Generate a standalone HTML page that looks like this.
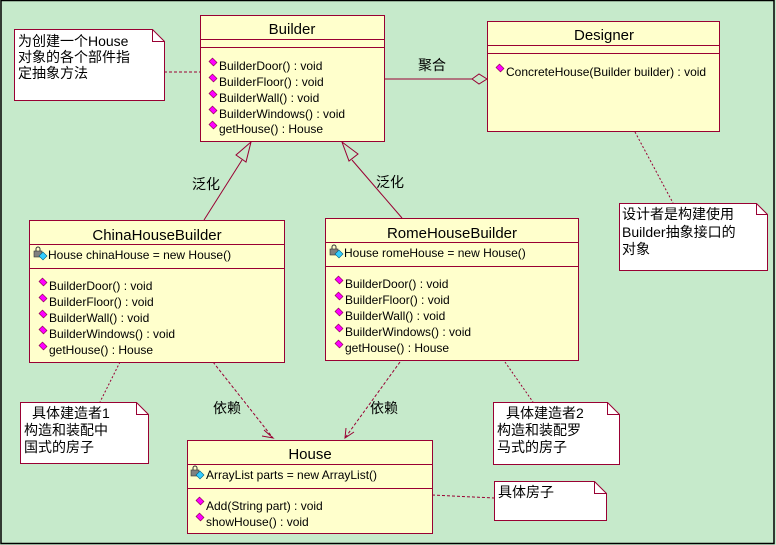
<!DOCTYPE html>
<html><head><meta charset="utf-8"><style>
html,body{margin:0;padding:0;background:#c6eacb;}
svg{display:block}
text{font-family:"Liberation Sans","Noto Sans CJK SC",sans-serif;fill:#000;font-weight:normal}
.t{font-size:15px}
.m{font-size:12px}
.c{font-size:14px}
</style></head><body>
<svg width="776" height="545" viewBox="0 0 776 545" xmlns="http://www.w3.org/2000/svg">
<defs>
<g id="dm"><path d="M0,3.5 L3.5,0 L8,4.5 L4.5,8 Z" fill="#ff00ff" stroke="#800040" stroke-width="0.6"/></g>
<g id="lk"><rect x="0" y="4" width="8" height="6" fill="#808080" stroke="#333" stroke-width="0.6"/><path d="M2,4 V2 A2,2 0 0 1 6,2 V4" fill="none" stroke="#333"/><path d="M5,9 L9,5 L13,9 L9,13 Z" fill="#33ccff" stroke="#006080" stroke-width="0.6"/></g>
</defs>
<rect x="1" y="0.5" width="773" height="543" fill="#c6eacb" stroke="#000" stroke-width="1.5"/>
<g stroke="#990033" stroke-width="1" fill="none">
<path d="M164,72 H200" stroke-dasharray="3,2"/>
<path d="M635,132 L673,203" stroke-dasharray="2,2"/>
<path d="M120,362 L100,402" stroke-dasharray="2,2"/>
<path d="M505,362 L533,402" stroke-dasharray="2,2"/>
<path d="M432,495 L494,498" stroke-dasharray="3,2"/>
<path d="M213,362 L273,438" stroke-dasharray="3,2"/>
<path d="M264,430 L273,438 L262,436"/>
<path d="M400,362 L345,438" stroke-dasharray="3,2"/>
<path d="M346,428 L345,438 L354,432"/>
<path d="M385,79 H472"/>
<path d="M472,79 L479,74 L487,79 L479,84 Z" fill="#c6eacb"/>
<path d="M204,220 L242,160"/>
<path d="M251,142 L236,155 L246,162 Z" fill="#c6eacb"/>
<path d="M402,218 L352,160"/>
<path d="M342,142 L358,154 L349,161 Z" fill="#c6eacb"/>
</g>
<text class="c" x="418" y="70">聚合</text>
<text class="c" x="192" y="189">泛化</text>
<text class="c" x="376" y="187">泛化</text>
<text class="c" x="213" y="413">依赖</text>
<text class="c" x="370" y="413">依赖</text>
<rect x="200.5" y="15.5" width="184" height="126" fill="#ffffcc" stroke="#990033"/>
<path d="M200,39.5 H385 M200,47.5 H385" stroke="#990033"/>
<text class="t" x="292" y="34" text-anchor="middle">Builder</text>
<use href="#dm" x="209" y="58"/><text class="m" x="219" y="70">BuilderDoor() : void</text>
<use href="#dm" x="209" y="74"/><text class="m" x="219" y="86">BuilderFloor() : void</text>
<use href="#dm" x="209" y="90"/><text class="m" x="219" y="102">BuilderWall() : void</text>
<use href="#dm" x="209" y="106"/><text class="m" x="219" y="118">BuilderWindows() : void</text>
<use href="#dm" x="209" y="121"/><text class="m" x="219" y="133">getHouse() : House</text>
<rect x="487.5" y="21.5" width="232" height="110" fill="#ffffcc" stroke="#990033"/>
<path d="M487,45.5 H720 M487,53.5 H720" stroke="#990033"/>
<text class="t" x="604" y="40" text-anchor="middle">Designer</text>
<use href="#dm" x="496" y="64"/><text class="m" x="506" y="76">ConcreteHouse(Builder builder) : void</text>
<rect x="29.5" y="220.5" width="255" height="142" fill="#ffffcc" stroke="#990033"/>
<path d="M29,244.5 H285 M29,268.5 H285" stroke="#990033"/>
<text class="t" x="157" y="240" text-anchor="middle">ChinaHouseBuilder</text>
<use href="#lk" x="34" y="247"/><text class="m" x="48" y="259">House chinaHouse = new House()</text>
<use href="#dm" x="39" y="278"/><text class="m" x="49" y="290">BuilderDoor() : void</text>
<use href="#dm" x="39" y="294"/><text class="m" x="49" y="306">BuilderFloor() : void</text>
<use href="#dm" x="39" y="310"/><text class="m" x="49" y="322">BuilderWall() : void</text>
<use href="#dm" x="39" y="326"/><text class="m" x="49" y="338">BuilderWindows() : void</text>
<use href="#dm" x="39" y="342"/><text class="m" x="49" y="354">getHouse() : House</text>
<rect x="325.5" y="218.5" width="253" height="142" fill="#ffffcc" stroke="#990033"/>
<path d="M325,242.5 H579 M325,266.5 H579" stroke="#990033"/>
<text class="t" x="452" y="238" text-anchor="middle">RomeHouseBuilder</text>
<use href="#lk" x="330" y="245"/><text class="m" x="344" y="257">House romeHouse = new House()</text>
<use href="#dm" x="335" y="276"/><text class="m" x="345" y="288">BuilderDoor() : void</text>
<use href="#dm" x="335" y="292"/><text class="m" x="345" y="304">BuilderFloor() : void</text>
<use href="#dm" x="335" y="308"/><text class="m" x="345" y="320">BuilderWall() : void</text>
<use href="#dm" x="335" y="324"/><text class="m" x="345" y="336">BuilderWindows() : void</text>
<use href="#dm" x="335" y="340"/><text class="m" x="345" y="352">getHouse() : House</text>
<rect x="187.5" y="440.5" width="245" height="93" fill="#ffffcc" stroke="#990033"/>
<path d="M187,464.5 H433 M187,488.5 H433" stroke="#990033"/>
<text class="t" x="310" y="459" text-anchor="middle">House</text>
<use href="#lk" x="191" y="466"/><text class="m" x="206" y="479">ArrayList parts = new ArrayList()</text>
<use href="#dm" x="196" y="497"/><text class="m" x="206" y="510">Add(String part) : void</text>
<use href="#dm" x="196" y="513"/><text class="m" x="206" y="526">showHouse() : void</text>
<g fill="#fff" stroke="#990033">
<path d="M14.5,29.5 H152.5 L164.5,41.5 V100.5 H14.5 Z"/><path d="M152.5,29.5 V41.5 H164.5" fill="none"/>
<path d="M619.5,203.5 H756.5 L767.5,214.5 V270.5 H619.5 Z"/><path d="M756.5,203.5 V214.5 H767.5" fill="none"/>
<path d="M20.5,402.5 H136.5 L148.5,414.5 V463.5 H20.5 Z"/><path d="M136.5,402.5 V414.5 H148.5" fill="none"/>
<path d="M493.5,402.5 H607.5 L619.5,414.5 V464.5 H493.5 Z"/><path d="M607.5,402.5 V414.5 H619.5" fill="none"/>
<path d="M494.5,481.5 H594.5 L606.5,493.5 V520.5 H494.5 Z"/><path d="M594.5,481.5 V493.5 H606.5" fill="none"/>
</g>
<text class="c" x="18" y="46">为创建一个House</text>
<text class="c" x="18" y="62">对象的各个部件指</text>
<text class="c" x="18" y="78">定抽象方法</text>
<text class="c" x="622" y="219">设计者是构建使用</text>
<text class="c" x="622" y="237">Builder抽象接口的</text>
<text class="c" x="622" y="254">对象</text>
<text class="c" x="32" y="418">具体建造者1</text>
<text class="c" x="24" y="435">构造和装配中</text>
<text class="c" x="24" y="452">国式的房子</text>
<text class="c" x="506" y="418">具体建造者2</text>
<text class="c" x="497" y="435">构造和装配罗</text>
<text class="c" x="497" y="452">马式的房子</text>
<text class="c" x="498" y="497">具体房子</text>
</svg>
</body></html>
